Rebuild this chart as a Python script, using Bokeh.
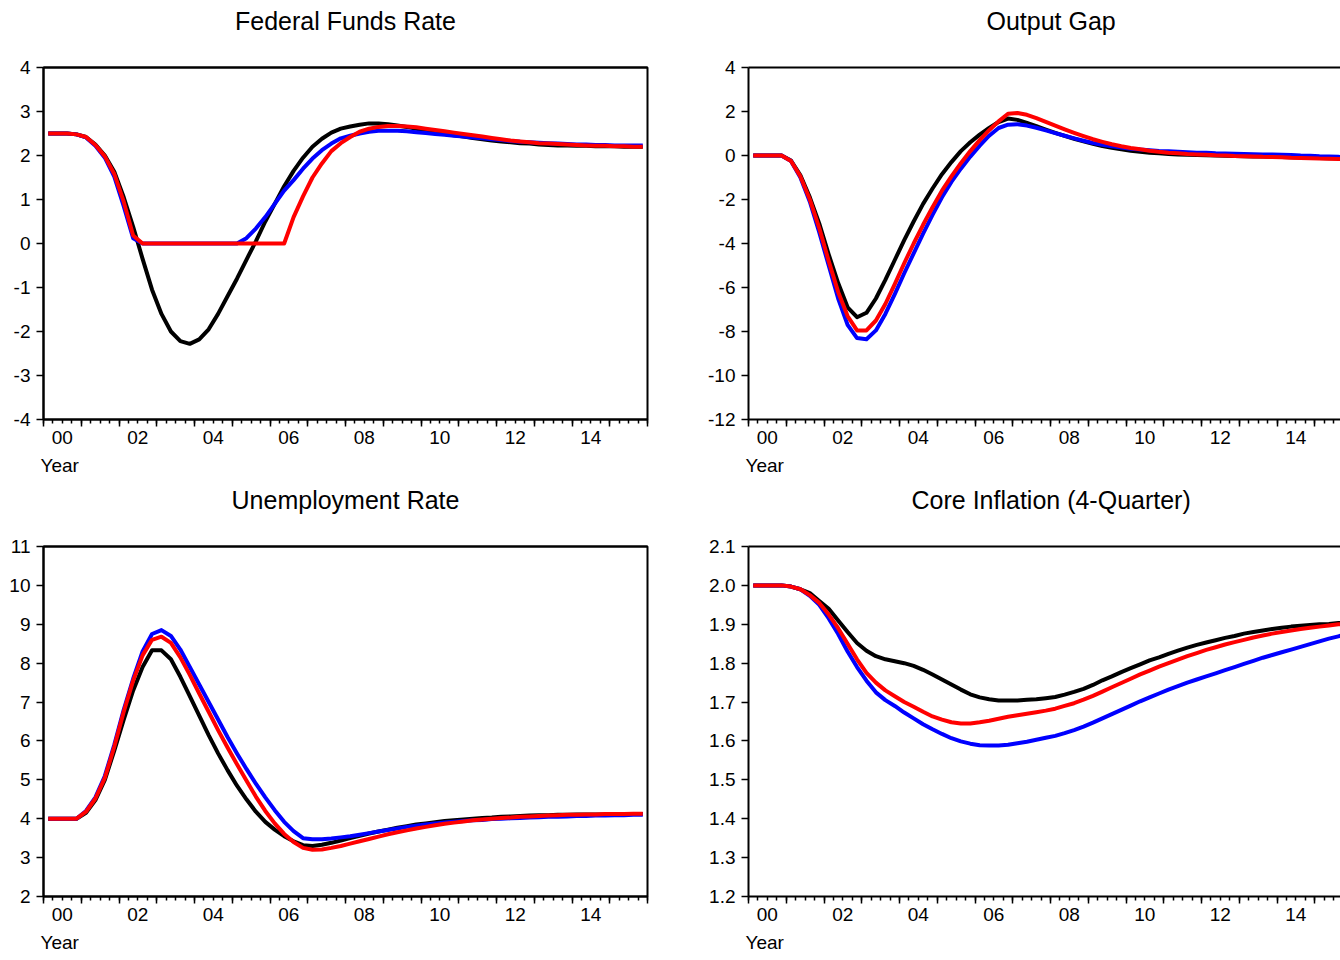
from bokeh.plotting import figure
from bokeh.models import Range1d, FixedTicker, LinearAxis, Title
from bokeh.layouts import gridplot
from bokeh.embed import file_html
from bokeh.resources import INLINE

FONT = "Liberation Sans"

# ---------------- data ----------------
periods = [f"{2000 + k // 4}Q{k % 4 + 1}" for k in range(64)]
year_tick_labels = ["00", "02", "04", "06", "08", "10", "12", "14"]

ffr_black = [2.5, 2.5, 2.5, 2.48, 2.42, 2.25, 2.0, 1.63, 1.05, 0.38,
             -0.35, -1.05, -1.6, -2.0, -2.22, -2.28, -2.18, -1.95, -1.6, -1.2,
             -0.8, -0.37, 0.05, 0.5, 0.9, 1.3, 1.65, 1.95, 2.2, 2.38,
             2.52, 2.61, 2.66, 2.70, 2.73, 2.73, 2.71, 2.68, 2.65, 2.61,
             2.57, 2.53, 2.49, 2.46, 2.43, 2.40, 2.37, 2.34, 2.32, 2.30,
             2.28, 2.27, 2.25, 2.24, 2.23, 2.23, 2.22, 2.22, 2.21, 2.21,
             2.21, 2.20, 2.20, 2.20]
ffr_blue = [2.5, 2.5, 2.5, 2.48, 2.41, 2.22, 1.95, 1.52, 0.85, 0.12,
            0.0, 0.0, 0.0, 0.0, 0.0, 0.0, 0.0, 0.0, 0.0, 0.0,
            0.0, 0.12, 0.34, 0.6, 0.9, 1.2, 1.44, 1.7, 1.93, 2.12,
            2.27, 2.39, 2.45, 2.50, 2.54, 2.56, 2.56, 2.56, 2.55, 2.53,
            2.51, 2.49, 2.47, 2.45, 2.43, 2.41, 2.39, 2.37, 2.35, 2.33,
            2.31, 2.30, 2.29, 2.28, 2.27, 2.26, 2.25, 2.25, 2.24, 2.24,
            2.23, 2.23, 2.23, 2.23]
ffr_red = [2.5, 2.5, 2.5, 2.48, 2.42, 2.24, 1.98, 1.58, 0.95, 0.18,
           0.0, 0.0, 0.0, 0.0, 0.0, 0.0, 0.0, 0.0, 0.0, 0.0,
           0.0, 0.0, 0.0, 0.0, 0.0, 0.0, 0.6, 1.07, 1.5, 1.82,
           2.1, 2.28, 2.42, 2.54, 2.61, 2.65, 2.67, 2.67, 2.66, 2.64,
           2.61, 2.58, 2.55, 2.52, 2.49, 2.46, 2.43, 2.40, 2.37, 2.34,
           2.32, 2.30, 2.28, 2.27, 2.26, 2.25, 2.24, 2.23, 2.22, 2.22,
           2.21, 2.21, 2.20, 2.20]

gap_black = [0.0, 0.0, 0.0, 0.0, -0.23, -0.9, -1.9, -3.1, -4.5, -5.8,
             -6.9, -7.35, -7.15, -6.5, -5.65, -4.75, -3.85, -3.0, -2.2, -1.5,
             -0.85, -0.3, 0.2, 0.6, 0.95, 1.25, 1.52, 1.68, 1.62, 1.48,
             1.33, 1.18, 1.03, 0.89, 0.76, 0.64, 0.53, 0.43, 0.35, 0.28,
             0.22, 0.17, 0.13, 0.10, 0.07, 0.05, 0.03, 0.02, 0.01, 0.0,
             -0.01, -0.02, -0.03, -0.04, -0.05, -0.06, -0.07, -0.08, -0.09, -0.10,
             -0.11, -0.12, -0.13, -0.14]
gap_blue = [0.0, 0.0, 0.0, 0.0, -0.25, -1.0, -2.1, -3.5, -5.0, -6.5,
            -7.7, -8.3, -8.35, -7.95, -7.2, -6.3, -5.35, -4.45, -3.55, -2.7,
            -1.9, -1.2, -0.6, -0.05, 0.45, 0.9, 1.25, 1.4, 1.42, 1.36,
            1.26, 1.14, 1.02, 0.90, 0.78, 0.67, 0.57, 0.49, 0.42, 0.36,
            0.31, 0.27, 0.24, 0.21, 0.19, 0.17, 0.15, 0.13, 0.12, 0.10,
            0.09, 0.08, 0.07, 0.06, 0.05, 0.04, 0.03, 0.02, 0.0, -0.01,
            -0.03, -0.04, -0.06, -0.08]
gap_red = [0.0, 0.0, 0.0, 0.0, -0.25, -0.95, -2.0, -3.3, -4.8, -6.2,
           -7.3, -7.95, -7.95, -7.5, -6.75, -5.85, -4.9, -4.0, -3.15, -2.35,
           -1.6, -0.95, -0.35, 0.2, 0.7, 1.15, 1.55, 1.9, 1.93, 1.85,
           1.7, 1.53, 1.36, 1.19, 1.03, 0.88, 0.74, 0.62, 0.51, 0.42,
           0.34, 0.28, 0.22, 0.17, 0.13, 0.10, 0.07, 0.05, 0.03, 0.01,
           0.0, -0.02, -0.03, -0.04, -0.06, -0.07, -0.08, -0.10, -0.11, -0.12,
           -0.14, -0.15, -0.16, -0.18]

unemp_black = [4.0, 4.0, 4.0, 4.0, 4.15, 4.48, 5.0, 5.75, 6.55, 7.3,
               7.9, 8.33, 8.33, 8.1, 7.65, 7.15, 6.65, 6.15, 5.68, 5.25,
               4.85, 4.5, 4.18, 3.92, 3.72, 3.55, 3.42, 3.32, 3.30, 3.33,
               3.38, 3.44, 3.50, 3.56, 3.62, 3.67, 3.72, 3.77, 3.81, 3.85,
               3.88, 3.91, 3.94, 3.96, 3.98, 4.0, 4.02, 4.03, 4.05, 4.06,
               4.07, 4.08, 4.09, 4.09, 4.10, 4.10, 4.11, 4.11, 4.11, 4.11,
               4.12, 4.12, 4.12, 4.12]
unemp_blue = [4.0, 4.0, 4.0, 4.0, 4.2, 4.55, 5.1, 5.9, 6.8, 7.6,
              8.3, 8.75, 8.85, 8.7, 8.35, 7.9, 7.45, 7.0, 6.55, 6.1,
              5.68, 5.28, 4.9, 4.55, 4.22, 3.92, 3.68, 3.50, 3.47, 3.47,
              3.49, 3.52, 3.55, 3.59, 3.63, 3.67, 3.71, 3.75, 3.79, 3.82,
              3.85, 3.88, 3.90, 3.92, 3.94, 3.96, 3.97, 3.99, 4.0, 4.01,
              4.02, 4.03, 4.04, 4.05, 4.05, 4.06, 4.07, 4.07, 4.08, 4.08,
              4.09, 4.09, 4.10, 4.10]
unemp_red = [4.0, 4.0, 4.0, 4.0, 4.18, 4.52, 5.05, 5.85, 6.75, 7.55,
             8.2, 8.6, 8.68, 8.52, 8.15, 7.7, 7.22, 6.75, 6.28, 5.83,
             5.4, 4.98, 4.57, 4.2, 3.88, 3.61, 3.4, 3.25, 3.20, 3.21,
             3.25, 3.30, 3.36, 3.42, 3.48, 3.54, 3.60, 3.65, 3.70, 3.75,
             3.79, 3.83, 3.87, 3.90, 3.93, 3.96, 3.98, 4.0, 4.02, 4.03,
             4.05, 4.06, 4.07, 4.08, 4.09, 4.10, 4.10, 4.11, 4.11, 4.12,
             4.12, 4.12, 4.13, 4.13]

infl_black = [2.0, 2.0, 2.0, 2.0, 1.997, 1.99, 1.98, 1.96, 1.94, 1.91,
              1.88, 1.852, 1.832, 1.818, 1.81, 1.805, 1.80, 1.793, 1.783, 1.771,
              1.758, 1.745, 1.732, 1.72, 1.712, 1.707, 1.704, 1.704, 1.704, 1.706,
              1.707, 1.71, 1.713, 1.719, 1.726, 1.734, 1.744, 1.756, 1.766, 1.777,
              1.787, 1.797, 1.807, 1.815, 1.824, 1.832, 1.84, 1.847, 1.853, 1.859,
              1.865, 1.87, 1.876, 1.88, 1.884, 1.888, 1.891, 1.894, 1.896, 1.898,
              1.90, 1.901, 1.903, 1.905]
infl_blue = [2.0, 2.0, 2.0, 2.0, 1.997, 1.99, 1.973, 1.95, 1.915, 1.875,
             1.83, 1.79, 1.755, 1.725, 1.705, 1.69, 1.673, 1.658, 1.643, 1.63,
             1.618, 1.607, 1.599, 1.593, 1.589, 1.588, 1.588, 1.59, 1.594, 1.598,
             1.603, 1.608, 1.613, 1.62, 1.628, 1.637, 1.647, 1.658, 1.669, 1.68,
             1.691, 1.702, 1.712, 1.722, 1.732, 1.741, 1.75, 1.758, 1.766, 1.774,
             1.782, 1.790, 1.798, 1.806, 1.814, 1.821, 1.828, 1.835, 1.842, 1.849,
             1.856, 1.863, 1.869, 1.875]
infl_red = [2.0, 2.0, 2.0, 2.0, 1.997, 1.99, 1.975, 1.955, 1.925, 1.89,
            1.85, 1.81, 1.775, 1.75, 1.73, 1.715, 1.70, 1.688, 1.675, 1.663,
            1.655, 1.648, 1.645, 1.645, 1.648, 1.652, 1.657, 1.662, 1.666, 1.67,
            1.674, 1.678, 1.683, 1.69, 1.697, 1.706, 1.716, 1.727, 1.738, 1.749,
            1.76, 1.771, 1.781, 1.791, 1.80, 1.809, 1.818, 1.826, 1.834, 1.841,
            1.848, 1.854, 1.86, 1.866, 1.871, 1.876, 1.88, 1.884, 1.888, 1.891,
            1.894, 1.897, 1.90, 1.902]


def period_x(p):
    yr, q = p.split("Q")
    return int(yr) + (int(q) - 0.5) / 4.0


xs = [period_x(p) for p in periods]
PX_PER_YEAR = 37.75


def make_panel(title, black, blue, red, y0, y1, yticks, ylabels,
               width, height, mb_left, mb_right, mb_top, mb_bottom,
               cut, title_offset=None):
    frame_w = width - mb_left - mb_right
    x_end = 2000 + frame_w / PX_PER_YEAR
    p = figure(width=width, height=height,
               x_range=Range1d(2000, x_end), y_range=Range1d(y0, y1),
               x_axis_type=None, y_axis_type=None,
               output_backend="svg", toolbar_location=None,
               min_border_left=mb_left, min_border_right=mb_right,
               min_border_top=mb_top, min_border_bottom=mb_bottom,
               background_fill_color="white", border_fill_color="white")
    if cut:
        p.outline_line_color = None
    else:
        p.outline_line_color = "black"
        p.outline_line_width = 2

    # top frame line; its (invisible) tick reserves the gap under the title
    top = LinearAxis(ticker=FixedTicker(ticks=[2000]),
                     major_label_overrides={2000: ""})
    top.axis_line_width = 2
    top.axis_line_color = "black"
    top.major_tick_line_color = None
    top.minor_tick_line_color = None
    top.major_tick_out = 33
    top.major_tick_in = 0
    top.minor_tick_out = 0
    top.minor_tick_in = 0
    top.major_label_standoff = 0
    top.major_label_text_font_size = "0px"
    p.add_layout(top, "above")

    # title
    if title_offset is None:
        t = Title(text=title, align="center")
    else:
        t = Title(text=title, align="left", offset=title_offset)
    t.text_font = FONT
    t.text_font_size = "25px"
    t.text_font_style = "normal"
    t.text_color = "black"
    t.vertical_align = "bottom"
    t.standoff = 0
    p.add_layout(t, "above")

    # y axis
    yax = LinearAxis(ticker=FixedTicker(ticks=yticks),
                     major_label_overrides=dict(zip(yticks, ylabels)))
    yax.axis_line_width = 2
    yax.axis_line_color = "black"
    yax.major_tick_out = 7
    yax.major_tick_in = 0
    yax.major_tick_line_width = 1.5
    yax.minor_tick_line_color = None
    yax.major_label_standoff = 6
    yax.major_label_text_font = FONT
    yax.major_label_text_font_size = "19px"
    yax.major_label_text_color = "black"
    p.add_layout(yax, "left")

    # x axis: tick marks (years long, quarters short)
    year_ticks = [2000 + k for k in range(17)]
    quarter_ticks = [2000 + 0.25 * k for k in range(65)]
    xa = LinearAxis(ticker=FixedTicker(ticks=year_ticks, minor_ticks=quarter_ticks),
                    major_label_overrides={t_: "" for t_ in year_ticks})
    xa.axis_line_width = 2
    xa.axis_line_color = "black"
    xa.major_tick_out = 7
    xa.major_tick_in = 0
    xa.minor_tick_out = 4
    xa.minor_tick_in = 0
    xa.major_tick_line_width = 1.5
    xa.minor_tick_line_width = 1.5
    xa.major_label_standoff = 0
    xa.major_label_text_font_size = "0px"
    p.add_layout(xa, "below")

    # x axis: labels centred in each labelled year
    label_pos = [2000.5 + 2 * k for k in range(len(year_tick_labels))]
    xb = LinearAxis(ticker=FixedTicker(ticks=label_pos),
                    major_label_overrides=dict(zip(label_pos, year_tick_labels)))
    xb.axis_line_color = None
    xb.major_tick_line_color = None
    xb.minor_tick_line_color = None
    xb.major_tick_out = 0
    xb.major_tick_in = 0
    xb.minor_tick_out = 0
    xb.minor_tick_in = 0
    xb.major_label_standoff = 4
    xb.major_label_text_font = FONT
    xb.major_label_text_font_size = "19px"
    xb.major_label_text_color = "black"
    p.add_layout(xb, "below")

    # "Year" caption
    yt = Title(text="Year", align="left", offset=-3)
    yt.text_font = FONT
    yt.text_font_size = "19px"
    yt.text_font_style = "normal"
    yt.text_color = "black"
    yt.vertical_align = "bottom"
    yt.standoff = 12
    p.add_layout(yt, "below")

    # series
    p.line(xs, black, line_color="black", line_width=4, line_join="round")
    p.line(xs, blue, line_color="#0000ff", line_width=4, line_join="round")
    p.line(xs, red, line_color="#ff0000", line_width=4, line_join="round")
    return p


ffr_ticks = list(range(-4, 5))
gap_ticks = list(range(-12, 5, 2))
unemp_ticks = list(range(2, 12))
infl_ticks = [1.2, 1.3, 1.4, 1.5, 1.6, 1.7, 1.8, 1.9, 2.0, 2.1]

p1 = make_panel("Federal Funds Rate", ffr_black, ffr_blue, ffr_red, -4, 4,
                ffr_ticks, [str(v) for v in ffr_ticks],
                690, 482, 43, 43, 67, 63, False)
p2 = make_panel("Output Gap", gap_black, gap_blue, gap_red, -12, 4,
                gap_ticks, [str(v) for v in gap_ticks],
                650, 482, 58, 0, 67, 63, True, title_offset=238)
p3 = make_panel("Unemployment Rate", unemp_black, unemp_blue, unemp_red, 2, 11,
                unemp_ticks, [str(v) for v in unemp_ticks],
                690, 478, 43, 43, 64, 64, False)
p4 = make_panel("Core Inflation (4-Quarter)", infl_black, infl_blue, infl_red, 1.2, 2.1,
                infl_ticks, [f"{v:.1f}" for v in infl_ticks],
                650, 478, 58, 0, 64, 64, True, title_offset=163)

grid = gridplot([[p1, p2], [p3, p4]], toolbar_location=None)

open("out.html", "w").write(file_html(grid, INLINE))
